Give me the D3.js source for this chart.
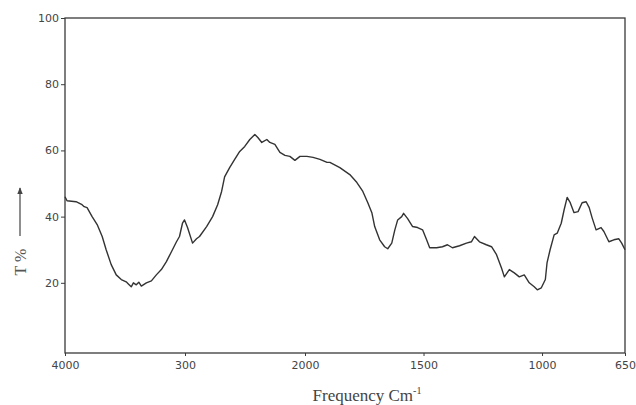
<!DOCTYPE html>
<html>
<head>
<meta charset="utf-8">
<script src="https://cdn.jsdelivr.net/npm/d3@7"></script>
<style>
  body { margin: 0; background: #fff; }
  svg text { font-family: "DejaVu Sans", sans-serif; }
</style>
</head>
<body>
<div id="chart"></div>
<script>
// IR spectrum: wavenumber (cm-1) and transmittance (%)
const wavenumbers = [
  4000, 3983, 3908, 3858, 3840, 3816, 3774, 3732, 3690, 3657, 3615, 3573, 3531, 3490,
  3470, 3448, 3430, 3406, 3385, 3364, 3322, 3280, 3239, 3197, 3155, 3113, 3071, 3046,
  3021, 3004, 2979, 2937, 2904, 2879, 2820, 2770, 2728, 2695, 2670, 2628, 2586, 2544,
  2502, 2460, 2418, 2393, 2360, 2318, 2293, 2251, 2209, 2167, 2126, 2084, 2042, 1992,
  1966, 1937, 1907, 1895, 1853, 1811, 1781, 1756, 1735, 1718, 1706, 1685, 1664, 1651,
  1634, 1621, 1609, 1592, 1584, 1567, 1546, 1525, 1504, 1487, 1474, 1445, 1420, 1399,
  1378, 1348, 1319, 1298, 1285, 1264, 1235, 1213, 1192, 1171, 1159, 1138, 1117, 1096,
  1075, 1054, 1033, 1020, 1003, 986, 979, 966, 949, 936, 919, 907, 894, 881, 865, 848,
  831, 814, 801, 789, 772, 751, 739, 718, 697, 676, 664, 650
];
const transmittance = [
  46.0, 44.8, 44.5, 43.6, 43.0, 42.7, 40.0, 37.6, 34.0, 30.0, 25.5, 22.4, 21.0, 20.3,
  19.6, 18.8, 20.0, 19.4, 20.2, 19.0, 20.0, 20.6, 22.4, 24.0, 26.4, 29.4, 32.4, 34.0,
  38.0, 39.0, 36.7, 32.0, 33.3, 34.0, 37.0, 40.0, 43.6, 47.6, 52.0, 54.8, 57.3, 59.7,
  61.2, 63.3, 64.8, 63.9, 62.4, 63.3, 62.4, 61.8, 59.4, 58.5, 58.2, 57.0, 58.2, 58.2,
  57.9, 57.3, 56.4, 56.4, 54.8, 52.7, 50.3, 47.6, 44.2, 41.2, 37.0, 33.0, 30.9, 30.3,
  32.0, 36.0, 39.0, 40.0, 41.0, 39.4, 37.0, 36.7, 36.0, 33.0, 30.6, 30.6, 30.9, 31.5,
  30.6, 31.2, 32.0, 32.4, 34.0, 32.4, 31.5, 30.9, 28.5, 24.5, 21.8, 24.0, 23.0, 21.8,
  22.4, 20.0, 18.8, 17.9, 18.5, 21.0, 26.0, 30.0, 34.5, 35.0, 38.0, 42.0, 45.8, 44.2,
  41.2, 41.5, 44.2, 44.5, 42.7, 39.7, 36.0, 36.7, 35.5, 32.4, 33.0, 33.3, 32.0, 30.0
];
const yTicks = [20, 40, 60, 80, 100];
const xTicks = [4000, 3000, 2000, 1500, 1000, 650];
const xTickLabels = ["4000", "300", "2000", "1500", "1000", "650"];

const W = 636, H = 405;
const plot = { left: 65, right: 625, top: 18, bottom: 353 };

const svg = d3.select("#chart").append("svg")
    .attr("width", W)
    .attr("height", H);

// chart paper changes scale at 2000 cm-1
const x = d3.scaleLinear()
    .domain([4000, 2000, 650])
    .range([plot.left, 305, plot.right]);

const y = d3.scaleLinear()
    .domain([-1.2, 100])
    .range([plot.bottom, plot.top]);

const ink = "#3a3a3a";

// frame
svg.append("rect")
    .attr("x", plot.left)
    .attr("y", plot.top)
    .attr("width", plot.right - plot.left)
    .attr("height", plot.bottom - plot.top)
    .attr("fill", "none")
    .attr("stroke", ink)
    .attr("stroke-width", 1.3);

// y axis
const yAxis = svg.append("g")
    .attr("transform", `translate(${plot.left},0)`)
    .call(d3.axisLeft(y).tickValues(yTicks).tickSize(4).tickPadding(2));
yAxis.select(".domain").remove();
yAxis.selectAll("line").attr("stroke", ink);
yAxis.selectAll("text")
    .attr("fill", "#444")
    .style("font-size", "11px");

// x axis
const xAxis = svg.append("g")
    .attr("transform", `translate(0,${plot.bottom})`)
    .call(d3.axisBottom(x)
        .tickValues(xTicks)
        .tickSize(3)
        .tickPadding(5)
        .tickFormat((d, i) => xTickLabels[i]));
xAxis.select(".domain").remove();
xAxis.selectAll("line").attr("stroke", ink);
xAxis.selectAll("text")
    .attr("fill", "#444")
    .style("font-size", "11px");

// spectrum trace
const line = d3.line()
    .x(d => x(d[0]))
    .y(d => y(d[1]));

svg.append("path")
    .datum(wavenumbers.map((w, i) => [w, transmittance[i]]))
    .attr("d", line)
    .attr("fill", "none")
    .attr("stroke", "#333")
    .attr("stroke-width", 1.4)
    .attr("stroke-linejoin", "round");

// y axis label with arrow
svg.append("defs").append("marker")
    .attr("id", "arrow")
    .attr("viewBox", "0 0 10 10")
    .attr("refX", 9)
    .attr("refY", 5)
    .attr("markerWidth", 6)
    .attr("markerHeight", 6)
    .attr("orient", "auto")
    .append("path")
    .attr("d", "M0,1 L10,5 L0,9 Z")
    .attr("fill", "#444");

svg.append("text")
    .attr("transform", "translate(26,262) rotate(-90)")
    .attr("text-anchor", "middle")
    .attr("fill", "#555")
    .style("font-family", "'Liberation Serif', serif")
    .style("font-size", "16px")
    .text("T %");

svg.append("line")
    .attr("x1", 20).attr("y1", 236)
    .attr("x2", 20).attr("y2", 188)
    .attr("stroke", "#444")
    .attr("stroke-width", 1.2)
    .attr("marker-end", "url(#arrow)");

// x axis label
const xl = svg.append("text")
    .attr("x", 367)
    .attr("y", 401)
    .attr("text-anchor", "middle")
    .attr("fill", "#444")
    .style("font-family", "'Liberation Serif', serif")
    .style("font-size", "17px");
xl.append("tspan").text("Frequency Cm");
xl.append("tspan")
    .attr("dy", -7)
    .style("font-size", "10px")
    .text("-1");
</script>
</body>
</html>
